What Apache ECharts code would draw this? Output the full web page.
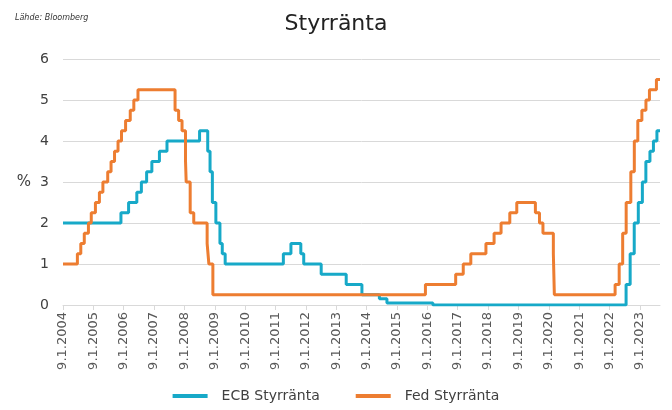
<!DOCTYPE html>
<html>
<head>
<meta charset="utf-8">
<script src="https://cdn.jsdelivr.net/npm/echarts@6/dist/echarts.min.js"></script>
<style>
  html, body { margin: 0; padding: 0; background: #fff; }
  #chart { width: 672px; height: 410px; }
</style>
</head>
<body>
<div id="chart"></div>
<script>
// ECB main refinancing rate, change dates and new levels (%)
const ecbDates = ['2004-01-09', '2005-12-06', '2006-03-08', '2006-06-15', '2006-08-09', '2006-10-11',
  '2006-12-13', '2007-03-14', '2007-06-13', '2008-07-09', '2008-10-15', '2008-11-12', '2008-12-10',
  '2009-01-21', '2009-03-11', '2009-04-08', '2009-05-13', '2011-04-13', '2011-07-13', '2011-11-09',
  '2011-12-14', '2012-07-11', '2013-05-08', '2013-11-13', '2014-06-11', '2014-09-10', '2016-03-16',
  '2022-07-27', '2022-09-14', '2022-11-02', '2022-12-21', '2023-02-08', '2023-03-22', '2023-05-10',
  '2023-06-21', '2023-08-02']
const ecbRates = [2.00, 2.25, 2.50, 2.75, 3.00, 3.25,
  3.50, 3.75, 4.00, 4.25, 3.75, 3.25, 2.50,
  2.00, 1.50, 1.25, 1.00, 1.25, 1.50, 1.25,
  1.00, 0.75, 0.50, 0.25, 0.15, 0.05, 0.00,
  0.50, 1.25, 2.00, 2.50, 3.00, 3.50, 3.75,
  4.00, 4.25]

// Fed funds target (upper bound), change dates and new levels (%)
const fedDates = ['2004-01-09', '2004-06-30', '2004-08-10', '2004-09-21', '2004-11-10', '2004-12-14',
  '2005-02-02', '2005-03-22', '2005-05-03', '2005-06-30', '2005-08-09', '2005-09-20', '2005-11-01',
  '2005-12-13', '2006-01-31', '2006-03-28', '2006-05-10', '2006-06-29', '2007-09-18', '2007-10-31',
  '2007-12-11', '2008-01-22', '2008-01-30', '2008-03-18', '2008-04-30', '2008-10-08', '2008-10-29',
  '2008-12-16', '2015-12-17', '2016-12-15', '2017-03-16', '2017-06-15', '2017-12-14', '2018-03-22',
  '2018-06-14', '2018-09-27', '2018-12-20', '2019-08-01', '2019-09-19', '2019-10-31', '2020-03-04',
  '2020-03-16', '2022-03-17', '2022-05-05', '2022-06-16', '2022-07-28', '2022-09-22', '2022-11-03',
  '2022-12-15', '2023-02-02', '2023-03-23', '2023-05-04', '2023-07-27']
const fedRates = [1.00, 1.25, 1.50, 1.75, 2.00, 2.25,
  2.50, 2.75, 3.00, 3.25, 3.50, 3.75, 4.00,
  4.25, 4.50, 4.75, 5.00, 5.25, 4.75, 4.50,
  4.25, 3.50, 3.00, 2.25, 2.00, 1.50, 1.00,
  0.25, 0.50, 0.75, 1.00, 1.25, 1.50, 1.75,
  2.00, 2.25, 2.50, 2.25, 2.00, 1.75, 1.25,
  0.25, 0.50, 1.00, 1.75, 2.50, 3.25, 4.00,
  4.50, 4.75, 5.00, 5.25, 5.50]

const startDate = '2004-01-09'
const endDate = '2023-09-08'
const firstYear = 2004
const lastYear = 2023

// years counted from 9.1.2004, so every 9.1. falls on a whole number
function toYear(s) {
  const p = s.split('-').map(Number)
  return firstYear + (Date.UTC(p[0], p[1] - 1, p[2]) - Date.UTC(2004, 0, 9)) / (365.25 * 864e5)
}

function buildSeries(dates, rates) {
  const pts = dates.map((d, i) => [toYear(d), rates[i]])
  pts.push([toYear(endDate), rates[rates.length - 1]])
  return pts
}

const font = 'DejaVu Sans'
const chart = echarts.init(document.getElementById('chart'))
chart.setOption({
  animation: false,
  textStyle: { fontFamily: font },
  title: [{
    text: 'Styrränta',
    left: 'center',
    top: 8,
    textStyle: { fontFamily: font, fontSize: 22, fontWeight: 'normal', color: '#222' }
  }, {
    text: 'Lähde: Bloomberg',
    left: 10,
    top: 9,
    textStyle: { fontFamily: font, fontSize: 8, fontStyle: 'italic', fontWeight: 'normal', color: '#333' }
  }],
  legend: {
    bottom: 2,
    left: 'center',
    itemWidth: 35,
    itemHeight: 4,
    itemGap: 36,
    icon: 'rect',
    textStyle: { fontFamily: font, fontSize: 14, color: '#404040', padding: [0, 0, 0, 9] },
    data: ['ECB Styrränta', 'Fed Styrränta']
  },
  grid: { left: 63, right: 12, top: 59, bottom: 105 },
  xAxis: {
    type: 'value',
    min: toYear(startDate),
    max: toYear(endDate),
    interval: 1,
    splitLine: { show: false },
    axisLine: { lineStyle: { color: '#d9d9d9' } },
    axisTick: { show: true, length: 5, lineStyle: { color: '#d9d9d9' } },
    axisLabel: {
      rotate: 90,
      fontSize: 13,
      color: '#595959',
      margin: 7,
      showMaxLabel: false,
      formatter: v => Number.isInteger(Math.round(v * 1000) / 1000) && v <= lastYear ? '9.1.' + Math.round(v) : ''
    }
  },
  yAxis: {
    type: 'value',
    min: 0,
    max: 6,
    interval: 1,
    name: '%',
    nameLocation: 'middle',
    nameRotate: 0,
    nameGap: 32,
    nameTextStyle: { fontFamily: font, fontSize: 15, color: '#404040' },
    axisLine: { show: false },
    axisTick: { show: false },
    axisLabel: { fontSize: 14, color: '#404040', margin: 14 },
    splitLine: { lineStyle: { color: '#d9d9d9', width: 1 } }
  },
  series: [{
    name: 'ECB Styrränta',
    type: 'line',
    step: 'end',
    showSymbol: false,
    color: '#17a9c8',
    lineStyle: { width: 3 },
    data: buildSeries(ecbDates, ecbRates)
  }, {
    name: 'Fed Styrränta',
    type: 'line',
    step: 'end',
    showSymbol: false,
    color: '#ed7d31',
    lineStyle: { width: 3 },
    data: buildSeries(fedDates, fedRates)
  }]
})
</script>
</body>
</html>
